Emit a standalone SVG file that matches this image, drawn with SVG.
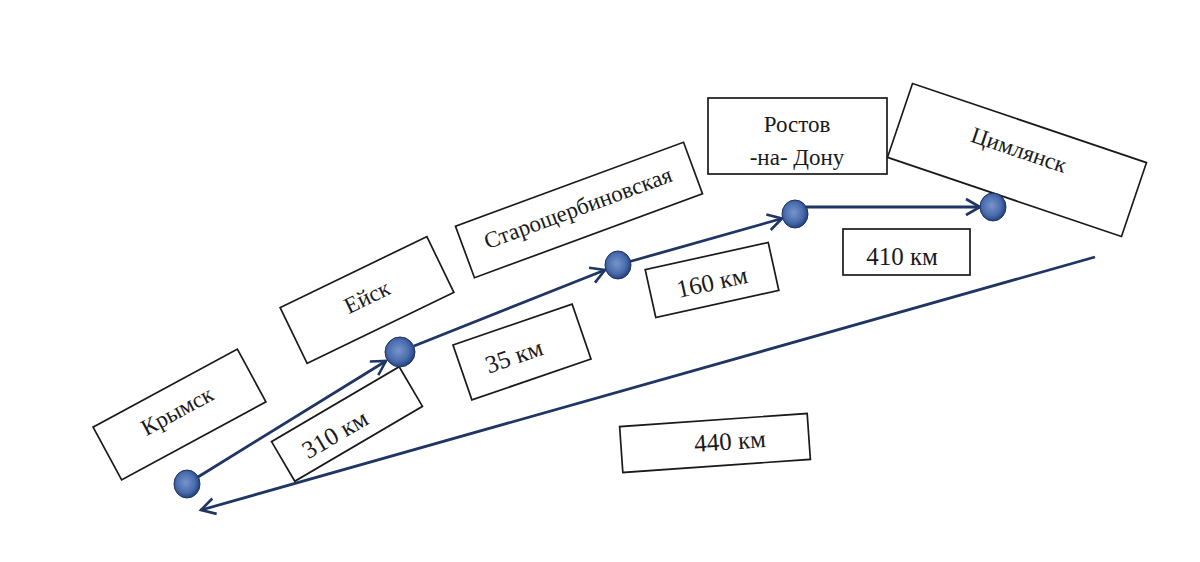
<svg xmlns="http://www.w3.org/2000/svg" width="1200" height="562" viewBox="0 0 1200 562">
<defs>
<style>
.box{fill:#ffffff;stroke:#1a1a1a;stroke-width:1.7}
.lbl{font-family:"Liberation Serif","DejaVu Serif",serif;font-size:23px;fill:#1a1a1a;text-anchor:middle;dominant-baseline:central}
.km{font-size:25px}
.plain{font-family:"Liberation Serif","DejaVu Serif",serif;font-size:23px;fill:#1a1a1a;text-anchor:middle}
.edge{fill:none;stroke:#1f3563;stroke-width:2.8}
.node{fill:url(#ng);stroke:#1d3566;stroke-width:1}
</style>
<radialGradient id="ng" cx="45%" cy="45%" r="60%">
<stop offset="0" stop-color="#7795cc"/>
<stop offset="0.6" stop-color="#4a6cad"/>
<stop offset="1" stop-color="#1c3670"/>
</radialGradient>
<marker id="arr" markerUnits="userSpaceOnUse" markerWidth="20" markerHeight="20" refX="16" refY="10" orient="auto-start-reverse" viewBox="0 0 20 20">
<path d="M2,2 L16,10 L2,18" fill="none" stroke="#1f3563" stroke-width="2.6"/>
</marker>
</defs>
<rect width="1200" height="562" fill="#ffffff"/>

<g id="connectors">
<line class="edge" x1="198" y1="477" x2="386" y2="361" marker-end="url(#arr)"/>
<line class="edge" x1="414" y1="346" x2="605" y2="270" marker-end="url(#arr)"/>
<line class="edge" x1="630" y1="261.5" x2="782" y2="218.5" marker-end="url(#arr)"/>
<line class="edge" x1="806" y1="207" x2="980" y2="207" marker-end="url(#arr)"/>
<line class="edge" x1="1095" y1="257" x2="201" y2="510" marker-end="url(#arr)"/>
</g>

<g id="krymsk">
<rect class="box" x="-82" y="-30" width="164" height="60" transform="translate(179.5,414.5) rotate(-28.4)"/>
<text class="lbl" transform="translate(177,411) rotate(-28.4)">Крымск</text>
</g>
<g id="eysk">
<rect class="box" x="-81.5" y="-31" width="163" height="62" transform="translate(367,300) rotate(-25.8)"/>
<text class="lbl" transform="translate(367,297) rotate(-25.8)">Ейск</text>
</g>
<g id="staroshcherbinovskaya">
<rect class="box" x="-121.5" y="-27.5" width="243" height="55" transform="translate(579,210) rotate(-20.2)"/>
<text class="lbl" transform="translate(578,208) rotate(-20.2)">Старощербиновская</text>
</g>
<g id="rostov">
<rect class="box" x="708" y="98" width="179" height="76"/>
<text class="plain" x="797" y="132">Ростов</text>
<text class="plain" x="797" y="165">-на- Дону</text>
</g>
<g id="tsimlyansk">
<rect class="box" x="-123.5" y="-39" width="247" height="78" transform="translate(1017,160) rotate(18.7)"/>
<text class="lbl" transform="translate(1019,150) rotate(18.7)">Цимлянск</text>
</g>

<g id="d310">
<rect class="box" x="-74" y="-23" width="148" height="46" transform="translate(347,424) rotate(-30.4)"/>
<text class="lbl km" transform="translate(335,434) rotate(-30.4)">310 км</text>
</g>
<g id="d35">
<rect class="box" x="-63" y="-29" width="126" height="58" transform="translate(522,352) rotate(-19)"/>
<text class="lbl km" transform="translate(514,356) rotate(-19)">35 км</text>
</g>
<g id="d160">
<rect class="box" x="-63" y="-24.5" width="126" height="49" transform="translate(712,280) rotate(-12.5)"/>
<text class="lbl km" transform="translate(712,282) rotate(-12.5)">160 км</text>
</g>
<g id="d410">
<rect class="box" x="843" y="229" width="127" height="46"/>
<text class="lbl km" x="902" y="256">410 км</text>
</g>
<g id="d440">
<rect class="box" x="-94" y="-23" width="188" height="46" transform="translate(715,443) rotate(-4)"/>
<text class="lbl km" transform="translate(730,441) rotate(-4)">440 км</text>
</g>

<g id="nodes">
<ellipse class="node" cx="187" cy="484" rx="13" ry="14"/>
<ellipse class="node" cx="400" cy="352" rx="15" ry="15"/>
<ellipse class="node" cx="618" cy="265" rx="13" ry="14"/>
<ellipse class="node" cx="795" cy="214" rx="13" ry="14"/>
<ellipse class="node" cx="993" cy="207" rx="13" ry="14"/>
</g>
</svg>
